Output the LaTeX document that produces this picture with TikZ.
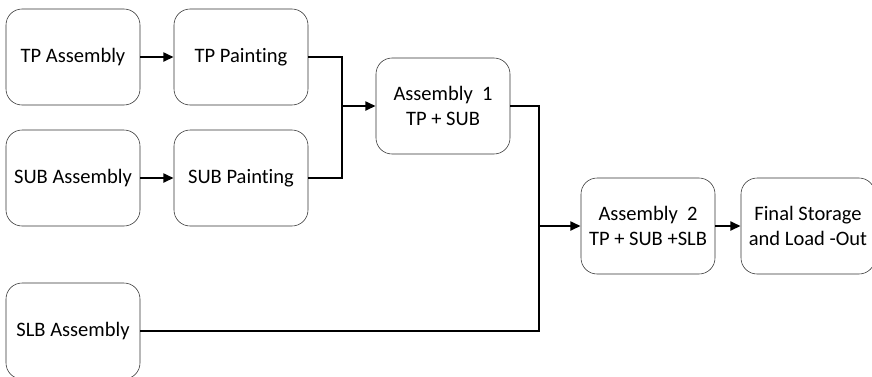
\documentclass[tikz,border=0pt]{standalone}
\usepackage{fontspec}
\setmainfont{Carlito}[Ligatures=NoCommon]
\usetikzlibrary{arrows.meta,positioning}

\begin{document}
\begin{tikzpicture}[auto, >={Triangle[length=2.6mm,width=2.2mm]},
    block/.style={rectangle, draw=black!80, rounded corners=0.4cm, minimum width=3.35cm, minimum height=2.4cm, align=center, font=\fontsize{14.6}{17.5}\selectfont},
    flow/.style={line width=2pt}]
    \useasboundingbox (0,0) rectangle (21.8,-9.4);

    \node[block] (tpa) at (1.825,-1.425) {TP Assembly};
    \node[block] (tpp) at (6.025,-1.425) {TP Painting};
    \node[block] (suba) at (1.825,-4.45) {SUB Assembly};
    \node[block] (subp) at (6.025,-4.45) {SUB Painting};
    \node[block] (slba) at (1.825,-8.275) {SLB Assembly};
    \node[block] (asm1) at (11.075,-2.65) {Assembly~ 1\\TP + SUB};
    \node[block] (asm2) at (16.2,-5.65) {Assembly~ 2\\TP + SUB +SLB};
    \node[block] (final) at (20.2,-5.65) {Final Storage\\and Load -Out};

    \coordinate (j1) at (8.55,-2.65);
    \coordinate (j2) at (13.475,-5.65);

    \draw[flow,->] (tpa) -- (tpp);
    \draw[flow,->] (suba) -- (subp);
    \draw[flow] (tpp.east) -| (j1);
    \draw[flow] (subp.east) -| (j1);
    \draw[flow,->] (j1) -- (asm1);
    \draw[flow] (asm1.east) -| (j2);
    \draw[flow] (slba.east) -| (j2);
    \draw[flow,->] (j2) -- (asm2);
    \draw[flow,->] (asm2) -- (final);
\end{tikzpicture}
\end{document}
